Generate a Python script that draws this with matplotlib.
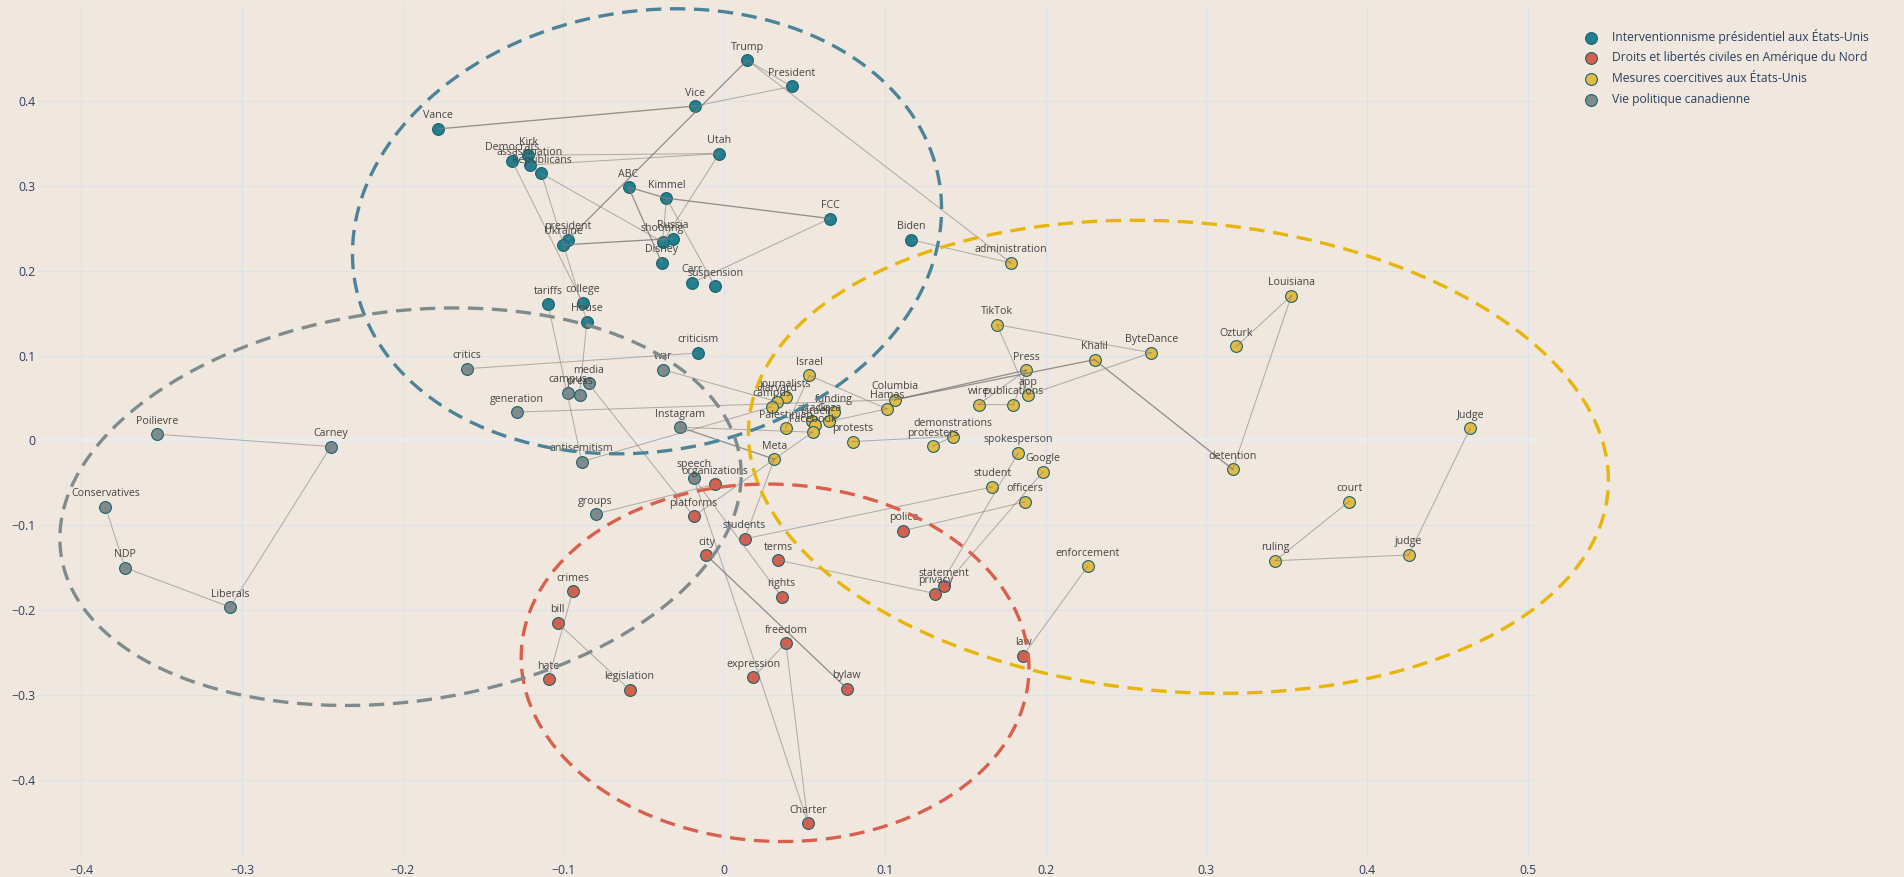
import numpy as np
import matplotlib.pyplot as plt

plt.rcParams["font.family"] = ["Open Sans", "DejaVu Sans"]

BG = "#f0e8de"
TICK_COLOR = "#2a3f5f"
LABEL_COLOR = "#444444"

GROUPS = [
    "Interventionnisme présidentiel aux États-Unis",
    "Droits et libertés civiles en Amérique du Nord",
    "Mesures coercitives aux États-Unis",
    "Vie politique canadienne",
]
COLORS = ["#21808f", "#d6604d", "#e2bb45", "#7f8c8d"]
ELLIPSE_COLORS = ["#4b8399", "#d9604c", "#e8b50a", "#7f8c8d"]

# --- words per cluster ---
US_WORDS = ["Trump", "President", "Vice", "Vance", "Utah", "Democrats", "Kirk",
            "assassination", "Republicans", "ABC", "Kimmel", "FCC", "Russia",
            "shooting", "president", "Ukraine", "Disney", "Carr", "suspension",
            "Biden", "tariffs", "college", "House", "criticism"]
US_X = [0.0144, 0.042, -0.018, -0.178, -0.003, -0.132, -0.122,
        -0.121, -0.1137, -0.0595, -0.0359, 0.0658, -0.0321,
        -0.0383, -0.0973, -0.100, -0.0388, -0.0201, -0.0056,
        0.1164, -0.1096, -0.0881, -0.0854, -0.0162]
US_Y = [0.448, 0.417, 0.394, 0.367, 0.338, 0.3295, 0.336,
        0.3244, 0.3145, 0.2984, 0.2854, 0.2614, 0.2378,
        0.2339, 0.2367, 0.2304, 0.2092, 0.1855, 0.1815,
        0.2364, 0.1605, 0.1623, 0.140, 0.103]

RIGHTS_WORDS = ["organizations", "platforms", "students", "city", "terms", "rights",
                "crimes", "bill", "freedom", "expression", "hate", "legislation",
                "bylaw", "Charter", "police", "statement", "privacy", "law"]
RIGHTS_X = [-0.0057, -0.019, 0.0127, -0.011, 0.0336, 0.0357,
            -0.0942, -0.1037, 0.0384, 0.0181, -0.1093, -0.0589,
            0.0764, 0.0522, 0.1115, 0.1368, 0.1315, 0.186]
RIGHTS_Y = [-0.0516, -0.0894, -0.116, -0.1354, -0.141, -0.1842,
            -0.1775, -0.2149, -0.2388, -0.279, -0.2813, -0.2935,
            -0.2923, -0.4513, -0.1063, -0.172, -0.1805, -0.2536]

COERC_WORDS = ["Israel", "journalists", "Harvard", "campus", "Palestinian", "funding",
               "attack", "Gaza", "Israeli", "Facebook", "Meta", "Columbia", "Hamas",
               "protests", "demonstrations", "protesters", "Press", "app", "wire",
               "publications", "TikTok", "Khalil", "ByteDance", "spokesperson",
               "Google", "student", "officers", "enforcement", "detention",
               "Louisiana", "Ozturk", "Judge", "court", "ruling", "judge",
               "administration"]
COERC_X = [0.0531, 0.0384, 0.0328, 0.0295, 0.0382, 0.0685,
           0.0546, 0.0654, 0.0567, 0.055, 0.0312, 0.1063, 0.1013,
           0.0799, 0.1422, 0.130, 0.188, 0.189, 0.1583,
           0.180, 0.1698, 0.2305, 0.2658, 0.183,
           0.1984, 0.1669, 0.187, 0.2264, 0.3165,
           0.353, 0.3187, 0.4643, 0.3889, 0.343, 0.426,
           0.1784]
COERC_Y = [0.0765, 0.0506, 0.0458, 0.0396, 0.0145, 0.033,
           0.0223, 0.0223, 0.0183, 0.0097, -0.0221, 0.0479, 0.0372,
           -0.0013, 0.0046, -0.0068, 0.0828, 0.0534, 0.0423,
           0.042, 0.1364, 0.0951, 0.1033, -0.0146,
           -0.0371, -0.0548, -0.0725, -0.148, -0.034,
           0.1705, 0.1107, 0.0145, -0.072, -0.1417, -0.135,
           0.2092]

CANADA_WORDS = ["Poilievre", "Carney", "Conservatives", "NDP", "Liberals", "critics",
                "generation", "campus", "press", "media", "war", "Instagram",
                "antisemitism", "speech", "groups"]
CANADA_X = [-0.353, -0.2448, -0.385, -0.3728, -0.3075, -0.160,
            -0.1288, -0.097, -0.090, -0.0844, -0.038, -0.0274,
            -0.0886, -0.019, -0.080]
CANADA_Y = [0.0073, -0.0072, -0.0784, -0.150, -0.1963, 0.0845,
            0.0334, 0.0561, 0.0537, 0.0671, 0.0833, 0.0156,
            -0.0249, -0.0441, -0.0867]

# links between words ("campus#3" would be the Canadian one)
EDGES = [
    ("Trump", "President"), ("Trump", "president"), ("Trump", "administration"),
    ("Vance", "Vice"), ("Vice", "President"), ("Biden", "administration"),
    ("Utah", "Kirk"), ("Utah", "assassination"), ("Utah", "shooting"),
    ("ABC", "Kimmel"), ("Kimmel", "FCC"), ("ABC", "Disney"), ("Kimmel", "shooting"),
    ("Kimmel", "suspension"), ("FCC", "Carr"), ("Ukraine", "Russia"),
    ("Republicans", "shooting"), ("Democrats", "college"), ("Republicans", "Ukraine"),
    ("Ukraine", "House"), ("tariffs", "antisemitism"), ("House", "press"),
    ("critics", "criticism"), ("media", "platforms"), ("antisemitism", "campus"),
    ("war", "Harvard"), ("generation", "Columbia"), ("Instagram", "Meta"),
    ("Instagram", "Facebook"), ("Meta", "platforms"), ("Meta", "students"),
    ("Meta", "Facebook"), ("groups", "organizations"), ("speech", "rights"),
    ("speech", "Charter"), ("city", "bylaw"), ("terms", "privacy"),
    ("students", "student"), ("police", "officers"), ("crimes", "hate"),
    ("bill", "legislation"), ("freedom", "expression"), ("freedom", "Charter"),
    ("law", "enforcement"), ("spokesperson", "privacy"), ("Google", "statement"),
    ("Israel", "Hamas"), ("Israel", "Palestinian"), ("Hamas", "Gaza"),
    ("Columbia", "Khalil"), ("Columbia", "Press"), ("TikTok", "ByteDance"),
    ("TikTok", "app"), ("Press", "wire"), ("wire", "publications"),
    ("Press", "publications"), ("ByteDance", "app"), ("Khalil", "detention"),
    ("detention", "Louisiana"), ("Louisiana", "Ozturk"), ("court", "ruling"),
    ("ruling", "judge"), ("judge", "Judge"), ("protests", "demonstrations"),
    ("demonstrations", "protesters"), ("Poilievre", "Carney"), ("Carney", "Liberals"),
    ("Liberals", "NDP"), ("NDP", "Conservatives"),
]
DARK_EDGES = {("Trump", "president"), ("ABC", "Disney"), ("Ukraine", "Russia"),
              ("ABC", "Kimmel"), ("Kimmel", "FCC"), ("Columbia", "Khalil"),
              ("Columbia", "Press"), ("city", "bylaw"), ("Khalil", "detention"),
              ("Instagram", "Meta"), ("Vance", "Vice")}

# cluster ellipses: centre, half extents, tilt (correlation)
ELL_CX = [-0.048, 0.0317, 0.2827, -0.2014]
ELL_CY = [0.2464, -0.262, -0.0193, -0.0781]
ELL_SX = [0.1833, 0.158, 0.2676, 0.212]
ELL_SY = [0.2622, 0.2106, 0.2787, 0.2342]
ELL_RHO = [0.10, -0.03, -0.10, 0.16]

XTICKS = [-0.4, -0.3, -0.2, -0.1, 0, 0.1, 0.2, 0.3, 0.4, 0.5]
XTICKLABELS = ["−0.4", "−0.3", "−0.2", "−0.1", "0", "0.1", "0.2", "0.3", "0.4", "0.5"]
YTICKS = [-0.4, -0.3, -0.2, -0.1, 0, 0.1, 0.2, 0.3, 0.4]
YTICKLABELS = ["−0.4", "−0.3", "−0.2", "−0.1", "0", "0.1", "0.2", "0.3", "0.4"]


def main():
    clusters = [(US_WORDS, US_X, US_Y), (RIGHTS_WORDS, RIGHTS_X, RIGHTS_Y),
                (COERC_WORDS, COERC_X, COERC_Y), (CANADA_WORDS, CANADA_X, CANADA_Y)]

    pos = {}
    for gi, (words, xs, ys) in enumerate(clusters):
        for w, x, y in zip(words, xs, ys):
            key = w if w not in pos else f"{w}#{gi}"
            pos[key] = (x, y)

    fig = plt.figure(figsize=(19.04, 8.77), dpi=100, facecolor=BG)
    ax = fig.add_axes([0.01996, 0.02166, 0.78834, 0.97263])
    ax.set_facecolor(BG)

    ax.set_xlim(-0.427, 0.5071)
    ax.set_ylim(-0.492, 0.513)
    ax.set_xticks(XTICKS)
    ax.set_xticklabels(XTICKLABELS)
    ax.set_yticks(YTICKS)
    ax.set_yticklabels(YTICKLABELS)
    ax.tick_params(length=0, labelsize=8.8, labelcolor=TICK_COLOR)
    ax.tick_params(axis="x", pad=4)
    ax.tick_params(axis="y", pad=2)
    for sp in ax.spines.values():
        sp.set_visible(False)
    ax.grid(True, color="#dce2ea", linewidth=0.8)
    ax.set_axisbelow(True)
    ax.axhline(0, color="#e9eef5", linewidth=1.6, zorder=0.6)
    ax.axvline(0, color="#e2e7ef", linewidth=1.0, zorder=0.6)

    # markers and labels
    for gi, (words, xs, ys) in enumerate(clusters):
        ax.scatter(xs, ys, s=72, color=COLORS[gi], edgecolor="#1d5f6b",
                   linewidth=0.8, zorder=3, label=GROUPS[gi])
        for w, x, y in zip(words, xs, ys):
            ax.annotate(w, (x, y), xytext=(0, 5.4), textcoords="offset points",
                        ha="center", va="bottom", fontsize=7.7,
                        color=LABEL_COLOR, zorder=5)

    # edges
    for a, b in EDGES:
        (x0, y0), (x1, y1) = pos[a], pos[b]
        dark = (a, b) in DARK_EDGES
        ax.plot([x0, x1], [y0, y1], color="#7a7a7a",
                alpha=0.8 if dark else 0.55,
                linewidth=0.95 if dark else 0.75, zorder=4)

    # dashed cluster ellipses
    t = np.linspace(0, 2 * np.pi, 300)
    for gi in range(4):
        r = ELL_RHO[gi]
        ex = ELL_CX[gi] + ELL_SX[gi] * np.cos(t)
        ey = ELL_CY[gi] + ELL_SY[gi] * (r * np.cos(t) + np.sqrt(1 - r * r) * np.sin(t))
        ax.plot(ex, ey, color=ELLIPSE_COLORS[gi], linewidth=2.4,
                linestyle=(0, (4.6, 2.6)), zorder=6, clip_on=False)

    handles, labels = ax.get_legend_handles_labels()
    fig.legend(handles, labels, loc="upper left", bbox_to_anchor=(0.8322, 0.9673),
               frameon=False, fontsize=8.7, labelcolor=TICK_COLOR,
               handlelength=1.0, handletextpad=1.3, labelspacing=0.64,
               borderpad=0, borderaxespad=0)

    fig.savefig("out.png", dpi=100, facecolor=BG)
    plt.close(fig)


if __name__ == "__main__":
    main()
